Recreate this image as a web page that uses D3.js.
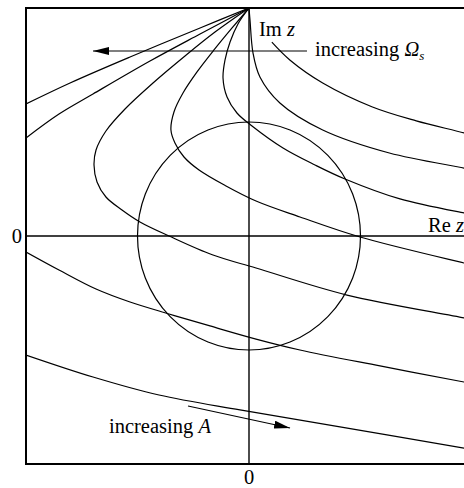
<!DOCTYPE html>
<html lang="en">
<meta charset="utf-8">
<style>
body { margin: 0; background: #fff; }
.locus { fill: none; stroke: #000; stroke-width: 1.2px; }
.axis { stroke: #000; stroke-width: 1.4px; }
.frame { fill: none; stroke: #000; stroke-width: 2px; }
text { font-family: "Liberation Serif", "Times New Roman", serif; font-size: 20.5px; fill: #000; }
</style>
<body>
<script src="https://d3js.org/d3.v7.min.js"></script>
<script>

// z-plane: Re z, Im z (unit circle in the middle)
var reDomain = [-2, 2];
var imDomain = [-2, 2];
var circleRadius = 1;

// root loci as [Re z, Im z]
var locus1 = [[0.205,1.70],[0.366,1.544],[0.661,1.342],[1.107,1.132],[1.50,1.01],[1.928,0.904],[2.0,0.881]];
var locus2 = [[0,2],[0.009,1.895],[0.036,1.605],[0.098,1.395],[0.277,1.167],[0.661,0.93],[1.259,0.728],[1.928,0.596],[2.0,0.579]];
var locus3 = [[0,2],[-0.099,1.860],[-0.170,1.702],[-0.215,1.544],[-0.233,1.386],[-0.197,1.219],[-0.108,1.079],
              [0.027,0.965],[0.305,0.772],[0.592,0.623],[0.861,0.5],[1.354,0.325],[1.928,0.202],[2.0,0.189]];
var locus4 = [[0,2],[-0.152,1.825],[-0.314,1.632],[-0.466,1.439],[-0.592,1.254],[-0.673,1.088],[-0.700,0.930],
              [-0.664,0.816],[-0.583,0.693],[-0.448,0.579],[-0.206,0.439],[0.063,0.307],[0.457,0.167],
              [0.996,-0.009],[1.928,-0.237],[2.0,-0.254]];
var locus5 = [[0,2],[-0.305,1.789],[-0.574,1.579],[-0.861,1.342],[-1.112,1.114],[-1.283,0.921],[-1.372,0.754],
              [-1.390,0.623],[-1.363,0.474],[-1.283,0.342],[-1.139,0.228],[-0.978,0.123],[-0.717,0],
              [-0.323,-0.167],[0.063,-0.281],[0.879,-0.518],[1.928,-0.719],[2.0,-0.737]];
var locus6 = [[0,2],[-0.439,1.772],[-0.888,1.535],[-1.399,1.246],[-1.704,1.070],[-2.0,0.860]];
var locus7 = [[0,2],[-0.439,1.825],[-1.067,1.57],[-1.605,1.342],[-2.0,1.158]];
var locus8 = [[-2.0,-0.140],[-1.704,-0.298],[-1.372,-0.465],[-1.067,-0.579],[-0.717,-0.684],[-0.350,-0.789],
              [0.063,-0.904],[0.457,-1.0],[1.175,-1.140],[1.928,-1.281],[2.0,-1.294]];
var locus9 = [[-2.0,-1.044],[-1.399,-1.237],[-0.807,-1.395],[-0.081,-1.526],[0.816,-1.675],[1.928,-1.86],[2.0,-1.873]];

// annotation arrows [from, to]
var arrowOmega = [[0.52,1.623],[-1.399,1.623]];
var arrowA = [[-0.547,-1.491],[0.368,-1.684]];

var width = 464, height = 488;

var x = d3.scaleLinear().domain(reDomain).range([26, 472]);
var y = d3.scaleLinear().domain(imDomain).range([464, 8]);

var svg = d3.select("body").append("svg")
    .attr("width", width)
    .attr("height", height);

var defs = svg.append("defs");
defs.append("clipPath").attr("id", "plotclip")
  .append("rect")
    .attr("x", x(reDomain[0])).attr("y", y(imDomain[1]))
    .attr("width", x(reDomain[1]) - x(reDomain[0]))
    .attr("height", y(imDomain[0]) - y(imDomain[1]));

defs.append("marker")
    .attr("id", "head")
    .attr("markerUnits", "userSpaceOnUse")
    .attr("viewBox", "0 0 16 8")
    .attr("refX", 16).attr("refY", 4)
    .attr("markerWidth", 16).attr("markerHeight", 8)
    .attr("orient", "auto")
  .append("path")
    .attr("d", "M0,0L16,4L0,8Z")
    .attr("fill", "#000");

// axes through the origin
svg.append("line").attr("class", "axis")
    .attr("x1", x(reDomain[0])).attr("x2", x(reDomain[1]))
    .attr("y1", y(0)).attr("y2", y(0));
svg.append("line").attr("class", "axis")
    .attr("x1", x(0)).attr("x2", x(0))
    .attr("y1", y(imDomain[0])).attr("y2", y(imDomain[1]));

var plot = svg.append("g").attr("clip-path", "url(#plotclip)");

// unit circle
plot.append("ellipse")
    .attr("class", "locus")
    .attr("cx", x(0)).attr("cy", y(0))
    .attr("rx", x(circleRadius) - x(0))
    .attr("ry", y(0) - y(circleRadius));

var line = d3.line()
    .x(function(d) { return x(d[0]); })
    .y(function(d) { return y(d[1]); })
    .curve(d3.curveCatmullRom.alpha(0.5));

[locus1, locus2, locus3, locus4, locus5, locus6, locus7, locus8, locus9].forEach(function(l) {
  plot.append("path")
      .datum(l)
      .attr("class", "locus")
      .attr("d", line);
});

// frame
svg.append("rect").attr("class", "frame")
    .attr("x", x(reDomain[0])).attr("y", y(imDomain[1]))
    .attr("width", x(reDomain[1]) - x(reDomain[0]))
    .attr("height", y(imDomain[0]) - y(imDomain[1]));

// arrows
[arrowOmega, arrowA].forEach(function(a) {
  svg.append("line")
      .attr("stroke", "#000").attr("stroke-width", 1.2)
      .attr("x1", x(a[0][0])).attr("y1", y(a[0][1]))
      .attr("x2", x(a[1][0])).attr("y2", y(a[1][1]))
      .attr("marker-end", "url(#head)");
});

// labels
var im = svg.append("text").attr("x", 259).attr("y", 36);
im.append("tspan").text("Im ");
im.append("tspan").style("font-style", "italic").text("z");

var re = svg.append("text").attr("x", 428).attr("y", 232);
re.append("tspan").text("Re ");
re.append("tspan").style("font-style", "italic").text("z");

var om = svg.append("text").attr("x", 315).attr("y", 56);
om.append("tspan").text("increasing ");
om.append("tspan").style("font-style", "italic").text("\u03A9");
om.append("tspan").style("font-style", "italic").style("font-size", "13px")
    .attr("dy", 4).text("s");

var ia = svg.append("text").attr("x", 109).attr("y", 433);
ia.append("tspan").text("increasing ");
ia.append("tspan").style("font-style", "italic").text("A");

svg.append("text").attr("x", 22).attr("y", 243)
    .attr("text-anchor", "end").text("0");
svg.append("text").attr("x", x(0)).attr("y", 484)
    .attr("text-anchor", "middle").text("0");

</script>
</body>
</html>
